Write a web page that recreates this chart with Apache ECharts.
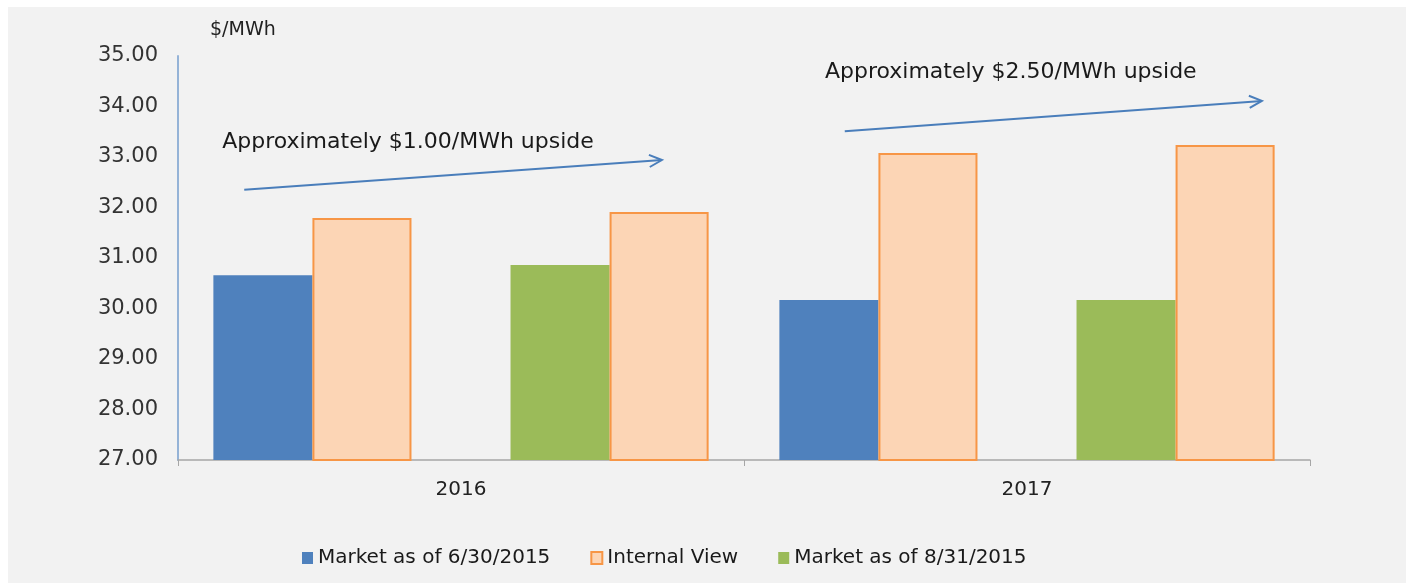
<!DOCTYPE html>
<html>
<head>
<meta charset="utf-8">
<script src="https://cdn.jsdelivr.net/npm/echarts@6/dist/echarts.min.js"></script>
<style>
  html, body { margin: 0; padding: 0; background: #fff; }
  #chart { width: 1414px; height: 583px; }
</style>
</head>
<body>
<div id="chart"></div>
<script>
// data
const years = ['2016', '2017']
const market0630 = [30.66, 30.17]
const internalA = [31.79, 33.08]
const market0831 = [30.86, 30.17]
const internalB = [31.91, 33.24]
const yTicks = { min: 27, max: 35, step: 1 }

// annotation arrows in data space: [categoryPos, value]
const arrow1 = [[-0.383, 32.35], [0.355, 32.94]]
const arrow2 = [[0.678, 33.51], [1.415, 34.11]]
const note1 = { text: 'Approximately $1.00/MWh upside', at: [-0.422, 33.30] }
const note2 = { text: 'Approximately $2.50/MWh upside', at: [0.643, 34.68] }

const font = 'DejaVu Sans'
const mychart = echarts.init(document.getElementById('chart'))

const option = {
  backgroundColor: '#fff',
  textStyle: { fontFamily: font },
  animation: false,
  grid: { left: 178, right: 104, top: 56, bottom: 123 },
  legend: {
    bottom: 10,
    left: 297,
    data: ['Market as of 6/30/2015', 'Internal View', 'Market as of 8/31/2015'],
    icon: 'rect',
    itemWidth: 11,
    itemHeight: 12,
    itemGap: 40,
    textStyle: { fontSize: 20, color: '#1a1a1a', fontFamily: font }
  },
  xAxis: {
    type: 'category',
    data: years,
    axisLine: { lineStyle: { color: '#a6a6a6', width: 1.5 } },
    axisTick: { show: true, length: 6, lineStyle: { color: '#a6a6a6' } },
    axisLabel: { fontSize: 20, color: '#222', margin: 20 }
  },
  yAxis: {
    type: 'value',
    min: yTicks.min,
    max: yTicks.max,
    interval: yTicks.step,
    name: '$/MWh',
    nameGap: 16,
    nameTextStyle: { fontSize: 19, color: '#222', align: 'left', padding: [0, 0, 0, 32] },
    axisLine: { show: true, lineStyle: { color: '#95b3d7', width: 2 } },
    axisTick: { show: false },
    splitLine: { show: false },
    axisLabel: {
      fontSize: 21, color: '#333', margin: 20,
      formatter: v => v.toFixed(2)
    }
  },
  series: [
    {
      name: 'Market as of 6/30/2015', type: 'bar', data: market0630,
      barGap: 0, barCategoryGap: '12.5%',
      itemStyle: { color: '#4f81bd' }
    },
    {
      name: 'Internal View', type: 'bar', data: internalA,
      itemStyle: { color: '#fcd5b5', borderColor: '#f79646', borderWidth: 2 }
    },
    // empty slot that makes the gap between the two pairs
    { name: 'gap', type: 'bar', data: [null, null] },
    {
      name: 'Market as of 8/31/2015', type: 'bar', data: market0831,
      itemStyle: { color: '#9bbb59' }
    },
    {
      name: 'Internal View', type: 'bar', data: internalB,
      itemStyle: { color: '#fcd5b5', borderColor: '#f79646', borderWidth: 2 }
    }
  ]
}
mychart.setOption(option)

// arrows and notes placed through the chart's own scales
// (category axis snaps to whole indexes, so interpolate between band centres)
function px (p) {
  const c0 = mychart.convertToPixel({ gridIndex: 0 }, [0, p[1]])
  const c1 = mychart.convertToPixel({ gridIndex: 0 }, [1, p[1]])
  return [c0[0] + p[0] * (c1[0] - c0[0]), c0[1]]
}
function arrowShapes (pts) {
  const a = px(pts[0])
  const b = px(pts[1])
  const ang = Math.atan2(b[1] - a[1], b[0] - a[0])
  const L = 14
  const h1 = [b[0] - L * Math.cos(ang - 0.45), b[1] - L * Math.sin(ang - 0.45)]
  const h2 = [b[0] - L * Math.cos(ang + 0.45), b[1] - L * Math.sin(ang + 0.45)]
  const st = { stroke: '#4a7ebb', lineWidth: 2, fill: null }
  return [
    { type: 'polyline', shape: { points: [a, b] }, style: st },
    { type: 'polyline', shape: { points: [h1, b, h2] }, style: st }
  ]
}
function noteShape (n) {
  const p = px(n.at)
  return {
    type: 'text', x: p[0], y: p[1],
    style: { text: n.text, font: '22px "' + font + '"', fill: '#1a1a1a', verticalAlign: 'middle' }
  }
}
mychart.setOption({
  graphic: [
    { type: 'rect', z: -10, shape: { x: 8, y: 7, width: 1398, height: 580 }, style: { fill: '#f2f2f2' } },
    ...arrowShapes(arrow1),
    ...arrowShapes(arrow2),
    noteShape(note1),
    noteShape(note2)
  ]
})
</script>
</body>
</html>
